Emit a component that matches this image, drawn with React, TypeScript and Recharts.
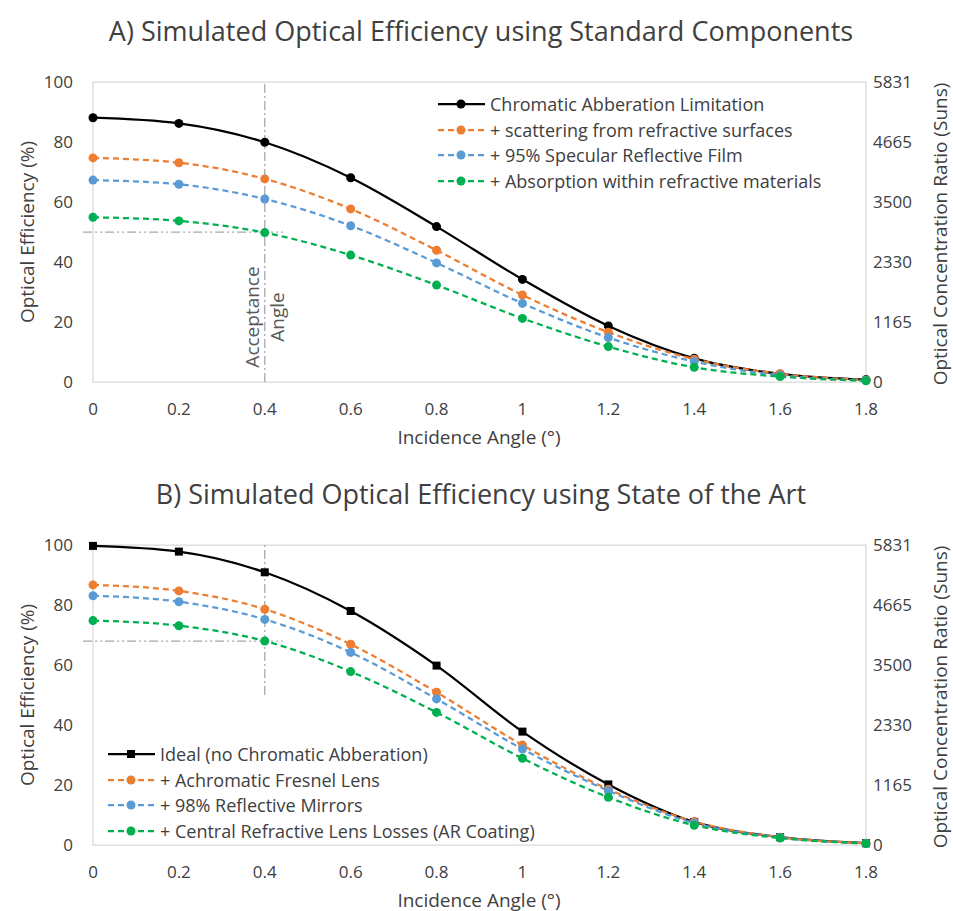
import React from "react";
import {
  LineChart,
  Line,
  XAxis,
  YAxis,
  ReferenceLine,
  ReferenceArea,
  Legend,
} from "recharts";

// incidence angle (deg)
const angles = [0, 0.2, 0.4, 0.6, 0.8, 1.0, 1.2, 1.4, 1.6, 1.8];
const angleTicks = [0, 0.2, 0.4, 0.6, 0.8, 1.0, 1.2, 1.4, 1.6, 1.8];
const efficiencyTicks = [0, 20, 40, 60, 80, 100];
const concentrationTicks = [0, 1165, 2330, 3500, 4665, 5831];

// A) standard components
const chromaticA = [88.1, 86.2, 79.9, 68.1, 51.8, 34.2, 18.7, 7.9, 2.7, 0.8];
const scatteringA = [74.7, 73.1, 67.7, 57.7, 43.9, 29.0, 16.6, 7.6, 2.7, 0.7];
const specularA = [67.3, 65.9, 61.0, 52.1, 39.7, 26.2, 14.8, 6.8, 2.2, 0.5];
const absorptionA = [54.9, 53.7, 49.8, 42.3, 32.3, 21.2, 11.8, 4.9, 1.8, 0.4];

// B) state of the art
const idealB = [99.7, 97.8, 90.9, 78.0, 59.8, 37.8, 20.2, 7.7, 2.6, 0.6];
const fresnelB = [86.7, 84.7, 78.6, 66.9, 50.9, 33.3, 18.6, 7.8, 2.6, 0.6];
const mirrorsB = [83.1, 81.1, 75.2, 64.2, 48.7, 32.0, 18.1, 7.3, 2.5, 0.5];
const centralB = [74.8, 73.1, 68.0, 57.8, 44.2, 28.9, 15.9, 6.6, 2.3, 0.5];

const FONT = "'Open Sans', sans-serif";
const TEXT = "#404040";
const BORDER = "#d9d9d9";
const GUIDE = "#a6a6a6";

const W = 953;
const H = 448;

interface Serie {
  key: string;
  label: string;
  color: string;
  dashed: boolean;
  square?: boolean;
}

const seriesA: Serie[] = [
  { key: "chromatic", label: "Chromatic Abberation Limitation", color: "#000000", dashed: false },
  { key: "scattering", label: "+ scattering from refractive surfaces", color: "#ED7D31", dashed: true },
  { key: "specular", label: "+ 95% Specular Reflective Film", color: "#5B9BD5", dashed: true },
  { key: "absorption", label: "+ Absorption within refractive materials", color: "#00B050", dashed: true },
];

const seriesB: Serie[] = [
  { key: "ideal", label: "Ideal (no Chromatic Abberation)", color: "#000000", dashed: false, square: true },
  { key: "fresnel", label: "+ Achromatic Fresnel Lens", color: "#ED7D31", dashed: true },
  { key: "mirrors", label: "+ 98% Reflective Mirrors", color: "#5B9BD5", dashed: true },
  { key: "central", label: "+ Central Refractive Lens Losses (AR Coating)", color: "#00B050", dashed: true },
];

const dataA = angles.map((a, i) => ({
  angle: a,
  chromatic: chromaticA[i],
  scattering: scatteringA[i],
  specular: specularA[i],
  absorption: absorptionA[i],
}));

const dataB = angles.map((a, i) => ({
  angle: a,
  ideal: idealB[i],
  fresnel: fresnelB[i],
  mirrors: mirrorsB[i],
  central: centralB[i],
}));

function SquareDot(props: any) {
  const { cx, cy, index } = props;
  if (cx == null || cy == null) return <g key={index} />;
  return <rect key={index} x={cx - 4} y={cy - 4} width={8} height={8} fill="#000" />;
}

function LegendBox({ series }: { series: Serie[] }) {
  return (
    <div style={{ fontFamily: FONT, fontSize: 18, color: TEXT }}>
      {series.map((s) => (
        <div key={s.key} style={{ display: "flex", alignItems: "center", height: 25.7 }}>
          <svg width={50} height={12} style={{ marginRight: 3 }}>
            <line
              x1={1}
              x2={48}
              y1={6}
              y2={6}
              stroke={s.color}
              strokeWidth={2.25}
              strokeDasharray={s.dashed ? "6 4" : undefined}
            />
            {s.square ? (
              <rect x={20} y={2} width={8} height={8} fill={s.color} />
            ) : (
              <circle cx={24} cy={6} r={4.5} fill={s.color} />
            )}
          </svg>
          <span style={{ whiteSpace: "nowrap" }}>{s.label}</span>
        </div>
      ))}
    </div>
  );
}

function Overlay({ x, y, text, size, rotate, color }: { x: number; y: number; text: string; size: number; rotate?: boolean; color?: string }) {
  return (
    <div
      style={{
        position: "absolute",
        left: x,
        top: y,
        transform: `translate(-50%, -50%)${rotate ? " rotate(-90deg)" : ""}`,
        whiteSpace: "nowrap",
        fontSize: size,
        color: color ?? TEXT,
        fontFamily: FONT,
        lineHeight: 1,
      }}
    >
      {text}
    </div>
  );
}

interface PanelProps {
  data: any[];
  series: Serie[];
  legendPos: { left: number; top: number };
  hLine: number;
  vLine: [number, number];
}

function Panel({ data, series, legendPos, hLine, vLine }: PanelProps) {
  return (
    <LineChart width={W} height={H} data={data} margin={{ top: 82, right: 0, left: 0, bottom: 0 }}>
      <XAxis
        dataKey="angle"
        type="number"
        domain={[0, 1.8]}
        ticks={angleTicks}
        tickFormatter={(v) => String(Number(v.toFixed(1)))}
        axisLine={false}
        tickLine={false}
        tickSize={0}
        tickMargin={21}
        height={66}
        tick={{ fontSize: 17, fill: TEXT, fontFamily: FONT }}
        interval={0}
      />
      <YAxis
        yAxisId="left"
        domain={[0, 100]}
        ticks={efficiencyTicks}
        axisLine={false}
        tickLine={false}
        tickSize={0}
        tickMargin={20}
        width={93}
        tick={{ fontSize: 17, fill: TEXT, fontFamily: FONT }}
        interval={0}
      />
      <YAxis
        yAxisId="right"
        orientation="right"
        domain={[0, 5831]}
        ticks={concentrationTicks}
        allowDataOverflow
        axisLine={false}
        tickLine={false}
        tickSize={0}
        tickMargin={7}
        width={87}
        tick={{ fontSize: 17, fill: TEXT, fontFamily: FONT, textAnchor: "start" }}
        interval={0}
      />
      <ReferenceArea
        yAxisId="left"
        x1={0}
        x2={1.8}
        y1={0}
        y2={100}
        fill="none"
        stroke={BORDER}
        strokeWidth={1.25}
      />
      <ReferenceLine
        yAxisId="left"
        segment={[{ x: 0.4, y: vLine[0] }, { x: 0.4, y: vLine[1] }]}
        stroke={GUIDE}
        strokeWidth={1.25}
        strokeDasharray="9 3 2 3"
        ifOverflow="visible"
      />
      <ReferenceLine
        yAxisId="left"
        segment={[{ x: -0.023, y: hLine }, { x: 0.442, y: hLine }]}
        stroke={GUIDE}
        strokeWidth={1.25}
        strokeDasharray="9 3 2 3 2 3"
        ifOverflow="visible"
      />
      {series.map((s) => (
        <Line
          key={s.key}
          yAxisId="left"
          type="monotone"
          dataKey={s.key}
          name={s.label}
          stroke={s.color}
          strokeWidth={2.25}
          strokeDasharray={s.dashed ? "6 4" : undefined}
          dot={s.square ? SquareDot : { r: 4.5, fill: s.color, stroke: s.color, strokeWidth: 0 }}
          isAnimationActive={false}
        />
      ))}
      <Legend
        layout="horizontal"
        verticalAlign="middle"
        align="center"
        content={() => <LegendBox series={series} />}
        wrapperStyle={{ position: "absolute", left: legendPos.left, top: legendPos.top, width: "auto" }}
      />
    </LineChart>
  );
}

export default function App() {
  return (
    <div
      style={{
        position: "absolute",
        left: 0,
        top: 0,
        width: W,
        height: 911,
        background: "#fff",
        fontFamily: FONT,
        overflow: "hidden",
      }}
    >
      {/* A) standard components */}
      <div style={{ position: "absolute", left: 0, top: 0 }}>
        <Panel data={dataA} series={seriesA} legendPos={{ left: 437, top: 91 }} hLine={50} vLine={[0, 100]} />
        <Overlay x={481} y={30} text="A) Simulated Optical Efficiency using Standard Components" size={27} />
        <Overlay x={479} y={437} text="Incidence Angle (°)" size={19} />
        <Overlay x={27} y={232} text="Optical Efficiency (%)" size={19} rotate />
        <Overlay x={940} y={234} text="Optical Concentration Ratio (Suns)" size={19} rotate />
        <div
          style={{
            position: "absolute",
            left: 265,
            top: 317,
            transform: "translate(-50%, -50%) rotate(-90deg)",
            textAlign: "center",
            fontSize: 19,
            lineHeight: "25px",
            color: "#595959",
            fontFamily: FONT,
          }}
        >
          Acceptance
          <br />
          Angle
        </div>
      </div>

      {/* B) state of the art */}
      <div style={{ position: "absolute", left: 0, top: 463 }}>
        <Panel data={dataB} series={seriesB} legendPos={{ left: 107, top: 278 }} hLine={68} vLine={[50, 100]} />
        <Overlay x={481} y={30} text="B) Simulated Optical Efficiency using State of the Art" size={27} />
        <Overlay x={479} y={437} text="Incidence Angle (°)" size={19} />
        <Overlay x={27} y={232} text="Optical Efficiency (%)" size={19} rotate />
        <Overlay x={940} y={234} text="Optical Concentration Ratio (Suns)" size={19} rotate />
      </div>
    </div>
  );
}
